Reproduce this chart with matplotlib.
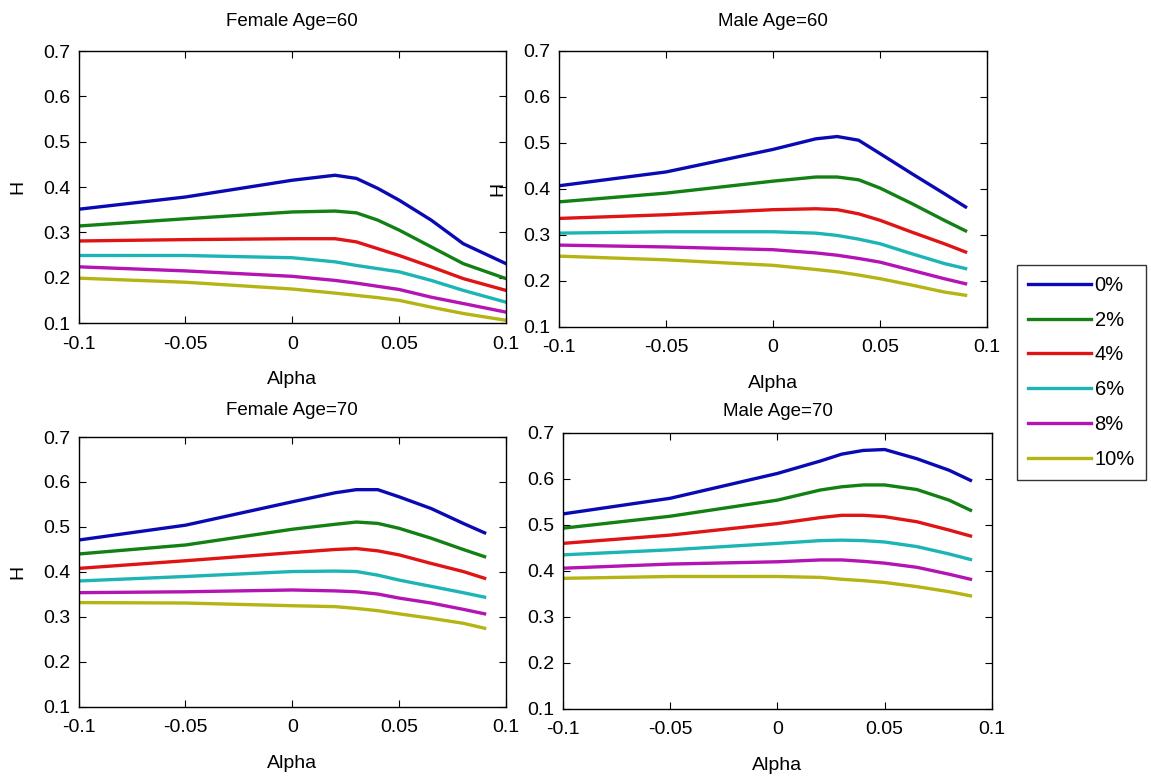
import matplotlib
matplotlib.use("Agg")
import matplotlib.pyplot as plt

plt.rcParams['font.family'] = ['Liberation Sans Narrow', 'Liberation Sans', 'DejaVu Sans']

rates = ['0%', '2%', '4%', '6%', '8%', '10%']
colors = ['#0a0ab4', '#138013', '#e01414', '#1cb4b4', '#b414b4', '#b4b414']

# alpha grid (top-left panel runs to 0.1, the rest stop at 0.09)
alpha_f60 = [-0.1, -0.05, 0.0, 0.02, 0.03, 0.04, 0.05, 0.065, 0.08, 0.1]
alpha_other = [-0.1, -0.05, 0.0, 0.02, 0.03, 0.04, 0.05, 0.065, 0.08, 0.09]

h_female60 = [
    [0.351, 0.378, 0.415, 0.426, 0.419, 0.397, 0.371, 0.327, 0.275, 0.231],
    [0.314, 0.330, 0.345, 0.347, 0.343, 0.327, 0.305, 0.268, 0.231, 0.198],
    [0.281, 0.284, 0.286, 0.286, 0.279, 0.264, 0.249, 0.224, 0.198, 0.172],
    [0.249, 0.249, 0.244, 0.235, 0.227, 0.220, 0.213, 0.194, 0.172, 0.146],
    [0.224, 0.215, 0.203, 0.194, 0.188, 0.181, 0.174, 0.157, 0.143, 0.124],
    [0.199, 0.190, 0.175, 0.166, 0.161, 0.156, 0.150, 0.135, 0.121, 0.106],
]
h_male60 = [
    [0.407, 0.437, 0.486, 0.509, 0.514, 0.506, 0.477, 0.433, 0.390, 0.361],
    [0.372, 0.391, 0.417, 0.426, 0.426, 0.420, 0.402, 0.368, 0.332, 0.309],
    [0.336, 0.344, 0.355, 0.357, 0.355, 0.346, 0.332, 0.306, 0.281, 0.263],
    [0.304, 0.307, 0.307, 0.304, 0.299, 0.291, 0.281, 0.259, 0.238, 0.227],
    [0.278, 0.274, 0.268, 0.261, 0.256, 0.249, 0.241, 0.223, 0.205, 0.194],
    [0.254, 0.246, 0.234, 0.225, 0.220, 0.213, 0.205, 0.191, 0.176, 0.169],
]
h_female70 = [
    [0.471, 0.504, 0.556, 0.576, 0.583, 0.583, 0.567, 0.541, 0.508, 0.487],
    [0.440, 0.460, 0.495, 0.506, 0.511, 0.508, 0.497, 0.475, 0.450, 0.434],
    [0.408, 0.425, 0.443, 0.450, 0.452, 0.447, 0.438, 0.419, 0.401, 0.386],
    [0.380, 0.390, 0.401, 0.402, 0.401, 0.393, 0.382, 0.368, 0.354, 0.344],
    [0.354, 0.356, 0.360, 0.358, 0.356, 0.351, 0.342, 0.331, 0.317, 0.307],
    [0.332, 0.331, 0.325, 0.323, 0.319, 0.314, 0.307, 0.297, 0.286, 0.275],
]
h_male70 = [
    [0.524, 0.558, 0.612, 0.639, 0.654, 0.662, 0.664, 0.644, 0.619, 0.597],
    [0.493, 0.519, 0.554, 0.576, 0.583, 0.587, 0.587, 0.577, 0.554, 0.532],
    [0.460, 0.478, 0.503, 0.516, 0.521, 0.521, 0.518, 0.507, 0.489, 0.476],
    [0.435, 0.446, 0.460, 0.466, 0.467, 0.466, 0.463, 0.453, 0.437, 0.425],
    [0.406, 0.415, 0.420, 0.424, 0.424, 0.421, 0.417, 0.408, 0.393, 0.382],
    [0.384, 0.388, 0.388, 0.386, 0.382, 0.379, 0.375, 0.366, 0.355, 0.346],
]

panels = [
    ('Female Age=60', alpha_f60, h_female60, [0.0683, 0.5848, 0.3713, 0.3496], 18),
    ('Male Age=60', alpha_other, h_male60, [0.4857, 0.5797, 0.3718, 0.3548], 18),
    ('Female Age=70', alpha_other, h_female70, [0.0683, 0.0913, 0.3713, 0.3470], 16),
    ('Male Age=70', alpha_other, h_male70, [0.4891, 0.0887, 0.3727, 0.3548], 12),
]

fig = plt.figure(figsize=(11.51, 7.78), dpi=100)
axes = []
for title, x, series, pos, tpad in panels:
    ax = fig.add_axes(pos)
    for vals, c, lab in zip(series, colors, rates):
        ax.plot(x, vals, color=c, lw=2.4, label=lab)
    ax.set_xlim(-0.1, 0.1)
    ax.set_ylim(0.1, 0.7)
    ax.set_xticks([-0.1, -0.05, 0, 0.05, 0.1])
    ax.set_xticklabels(['-0.1', '-0.05', '0', '0.05', '0.1'])
    ax.set_yticks([0.1, 0.2, 0.3, 0.4, 0.5, 0.6, 0.7])
    ax.set_yticklabels(['0.1', '0.2', '0.3', '0.4', '0.5', '0.6', '0.7'])
    ax.tick_params(direction='in', length=5, width=0.8, top=True, right=True,
                   labelsize=14)
    ax.tick_params(axis='x', pad=9)
    ax.tick_params(axis='y', pad=6)
    for s in ax.spines.values():
        s.set_linewidth(1.0)
    ax.set_title(title, fontsize=13.5, pad=tpad)
    ax.set_xlabel('Alpha', fontsize=14, labelpad=13)
    ax.set_ylabel('H', fontsize=14, labelpad=12)
    axes.append(ax)

# lower-left panel sits over the neighbour's y label, as in the original
axes[2].set_zorder(2)

handles, labels = axes[0].get_legend_handles_labels()
fig.legend(handles, labels, loc='upper left', bbox_to_anchor=(0.8836, 0.6594),
           borderaxespad=0, fontsize=14.5, handlelength=3.1, handletextpad=0.2,
           labelspacing=0.78, frameon=True, fancybox=False, edgecolor='black',
           borderpad=0.55)

fig.savefig('out.png', dpi=100)
